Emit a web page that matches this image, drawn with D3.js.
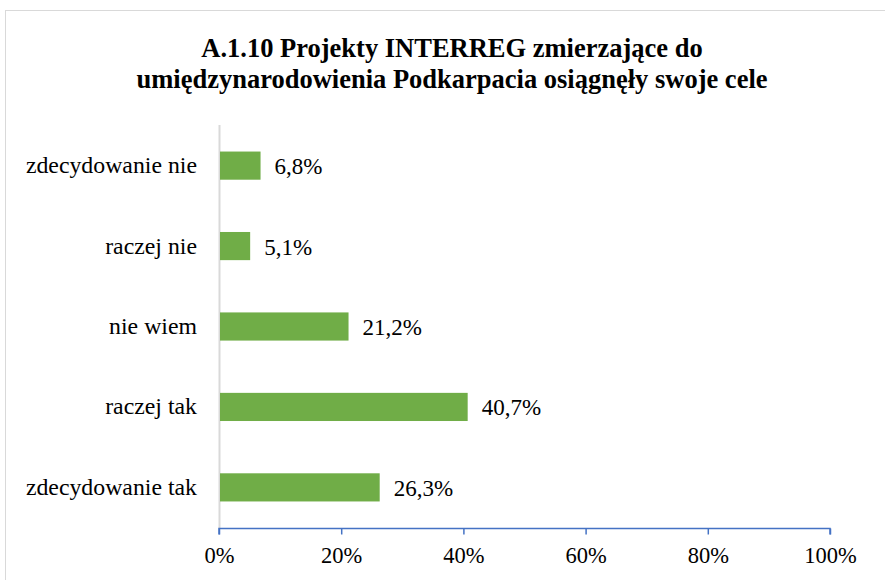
<!DOCTYPE html>
<html><head><meta charset="utf-8">
<script src="https://cdn.jsdelivr.net/npm/d3@7"></script>
<style>body{margin:0;background:#fff;} svg{display:block;}</style>
</head><body>
<svg id="c" width="885" height="580"></svg>
<script>
const categories = ["zdecydowanie nie","raczej nie","nie wiem","raczej tak","zdecydowanie tak"];
const values = [6.8, 5.1, 21.2, 40.7, 26.3];
const valueLabels = ["6,8%","5,1%","21,2%","40,7%","26,3%"];
const tickValues = [0,20,40,60,80,100];
const titleLines = ["A.1.10 Projekty INTERREG zmierzające do","umiędzynarodowienia Podkarpacia osiągnęły swoje cele"];

const FONT = "Liberation Serif";
const svg = d3.select("#c");
svg.append("rect").attr("x",5.5).attr("y",10.5).attr("width",900).attr("height",600)
  .attr("fill","#fff").attr("stroke","#d9d9d9").attr("stroke-width",1);

svg.selectAll("text.title").data(titleLines).enter().append("text")
  .attr("x",452).attr("y",(d,i)=>57+i*31).attr("text-anchor","middle")
  .attr("font-family",FONT).attr("font-weight","bold").attr("font-size",26.5).attr("fill","#000").text(d=>d);

const x = d3.scaleLinear().domain([0,100]).range([219,830]);
const y = d3.scaleBand().domain(categories).range([125,528]).paddingInner(0.65).paddingOuter(0.33);

svg.append("line").attr("x1",219.5).attr("x2",219.5).attr("y1",125).attr("y2",528)
  .attr("stroke","#d9d9d9").attr("stroke-width",2);

svg.selectAll("rect.bar").data(values).enter().append("rect")
  .attr("x",x(0)+1).attr("y",(d,i)=>y(categories[i]))
  .attr("width",d=>x(d)-x(0)-1).attr("height",y.bandwidth())
  .attr("fill","#70AD47");

svg.selectAll("text.val").data(values).enter().append("text")
  .attr("x",d=>x(d)+14).attr("y",(d,i)=>y(categories[i])+y.bandwidth()/2+8.5)
  .attr("font-family",FONT).attr("font-size",23).attr("fill","#000")
  .text((d,i)=>valueLabels[i]);

svg.selectAll("text.cat").data(categories).enter().append("text")
  .attr("x",197).attr("y",d=>y(d)+y.bandwidth()/2+7.5).attr("text-anchor","end")
  .attr("font-family",FONT).attr("font-size",23.8).attr("fill","#000").text(d=>d);

const ax = svg.append("g").attr("transform","translate(0,528.5)")
  .call(d3.axisBottom(x).tickValues(tickValues).tickFormat(d=>d+"%").tickSize(6).tickPadding(13));
ax.attr("font-family",FONT);
ax.select(".domain").attr("stroke","#4472C4").attr("stroke-width",1.5).attr("d","M219,6V0H830V6");
ax.selectAll(".tick line").attr("stroke","#4472C4").attr("stroke-width",1.5);
ax.selectAll(".tick text").attr("font-family",FONT).attr("font-size",22.5).attr("fill","#000");
</script>
</body></html>
